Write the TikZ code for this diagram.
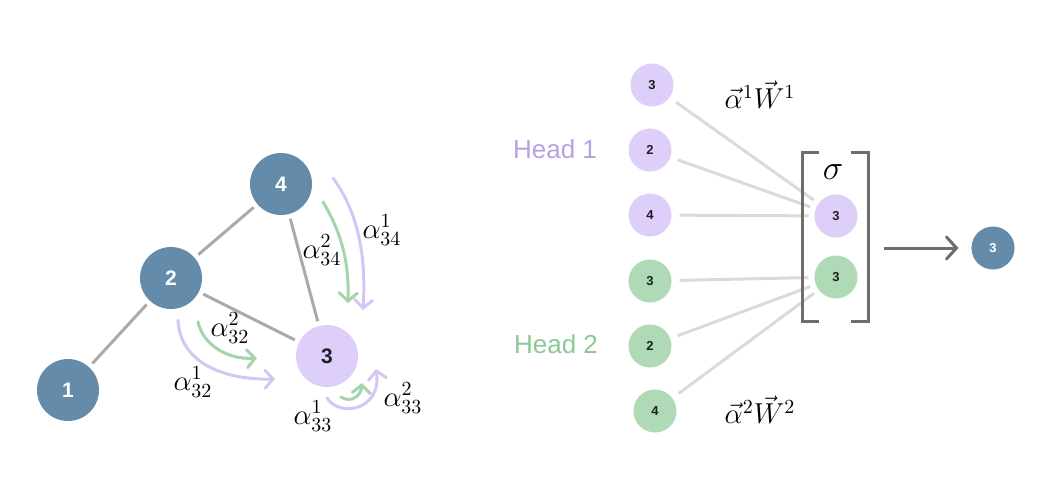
\documentclass[tikz,border=0pt]{standalone}
\usepackage[no-math]{fontspec}
\setmainfont{Liberation Sans}
\usetikzlibrary{arrows.meta}
\definecolor{nodeblue}{RGB}{100,140,170}
\definecolor{lav}{RGB}{221,207,250}
\definecolor{mint}{RGB}{176,217,181}
\definecolor{lavarrow}{RGB}{212,198,245}
\definecolor{mintarrow}{RGB}{165,212,170}
\definecolor{headlav}{RGB}{182,162,226}
\definecolor{headmint}{RGB}{140,200,150}
\definecolor{edgegray}{RGB}{170,170,170}
\definecolor{linegray}{RGB}{218,218,218}
\definecolor{brackgray}{RGB}{110,110,110}

\begin{document}
\begin{tikzpicture}[x=0.5pt, y=-0.5pt,
  big/.style={circle, minimum size=31pt, inner sep=0pt, outer sep=0pt, font=\bfseries\fontsize{10.5}{12}\selectfont},
  small/.style={circle, minimum size=21.5pt, inner sep=0pt, outer sep=0pt, font=\bfseries\fontsize{6.5}{8}\selectfont},
  bluenode/.style={fill=nodeblue, text=white},
  lavnode/.style={fill=lav, text=black!85!lav},
  mintnode/.style={fill=mint, text=black!85!mint},
  edge/.style={draw=edgegray, line width=1.5pt, shorten >=2.5pt, shorten <=2.5pt},
  link/.style={draw=linegray, line width=1.5pt, shorten >=3pt, shorten <=4pt},
  att/.style={line width=1.5pt, line cap=round, -{Straight Barb[length=4pt, width=9pt, line cap=round]}},
  lab/.style={font=\fontsize{14}{16}\selectfont},
  head/.style={font=\fontsize{13}{15}\selectfont}]
\useasboundingbox (0,0) rectangle (1055,484);

\node[big, bluenode] (n1) at (68,390) {1};
\node[big, bluenode] (n2) at (171,278) {2};
\node[big, bluenode] (n4) at (281,184) {4};
\node[big, lavnode] (n3) at (327,356) {3};
\draw[edge] (n1) -- (n2);
\draw[edge] (n2) -- (n4);
\draw[edge] (n2) -- (n3);
\draw[edge] (n4) -- (n3);

\draw[att, lavarrow] (333,178) .. controls (360,215) and (366,260) .. (363,310);
\draw[att, mintarrow] (323,202) .. controls (343,235) and (349,265) .. (348,303);
\draw[att, lavarrow] (178,320) .. controls (180,362) and (222,380) .. (275,379);
\draw[att, mintarrow] (198,322) .. controls (203,345) and (228,360) .. (257,358);
\draw[att, lavarrow] (327,398) .. controls (340,418) and (382,410) .. (376,369);
\draw[att, mintarrow] (341,397) .. controls (350,403) and (361,397) .. (362,383);

\node[lab] (a341) at (382,230) {$\alpha^1_{34}$};
\node[lab] (a342) at (322,250) {$\alpha^2_{34}$};
\node[lab] (a322) at (230,328) {$\alpha^2_{32}$};
\node[lab] (a321) at (193,382) {$\alpha^1_{32}$};
\node[lab] (a331) at (313,416) {$\alpha^1_{33}$};
\node[lab] (a332) at (403,398) {$\alpha^2_{33}$};

\node[head, text=headlav] (h1) at (555,149) {Head 1};
\node[head, text=headmint] (h2) at (556,344) {Head 2};

\node[small, lavnode] (p3) at (652,85) {3};
\node[small, lavnode] (p2) at (650,150) {2};
\node[small, lavnode] (p4) at (650,215) {4};
\node[small, mintnode] (g3) at (650,281) {3};
\node[small, mintnode] (g2) at (650,346) {2};
\node[small, mintnode] (g4) at (655,411) {4};
\node[small, lavnode] (cp) at (836,216) {3};
\node[small, mintnode] (cg) at (836,277) {3};
\node[small, bluenode] (out) at (993,248) {3};

\foreach \a in {p3,p2,p4} \draw[link] (\a) -- (cp);
\foreach \a in {g3,g2,g4} \draw[link] (\a) -- (cg);

\draw[brackgray, line width=1.5pt] (819,152) -- (802,152) -- (802,321) -- (819,321);
\draw[brackgray, line width=1.5pt] (851,152) -- (868,152) -- (868,321) -- (851,321);
\node[font=\fontsize{18}{20}\selectfont] (sig) at (833,172) {$\sigma$};

\coordinate (arrs) at (884,248);
\draw[brackgray, line width=1.5pt, -{Straight Barb[length=5pt, width=11pt, line cap=round]}, shorten >=6.5pt] (arrs) -- (out.west);

\node[font=\fontsize{14}{16}\selectfont] (w1) at (760,95) {$\vec{\alpha}^1\vec{W}^1$};
\node[font=\fontsize{14}{16}\selectfont] (w2) at (760,410) {$\vec{\alpha}^2\vec{W}^2$};
\end{tikzpicture}
\end{document}
